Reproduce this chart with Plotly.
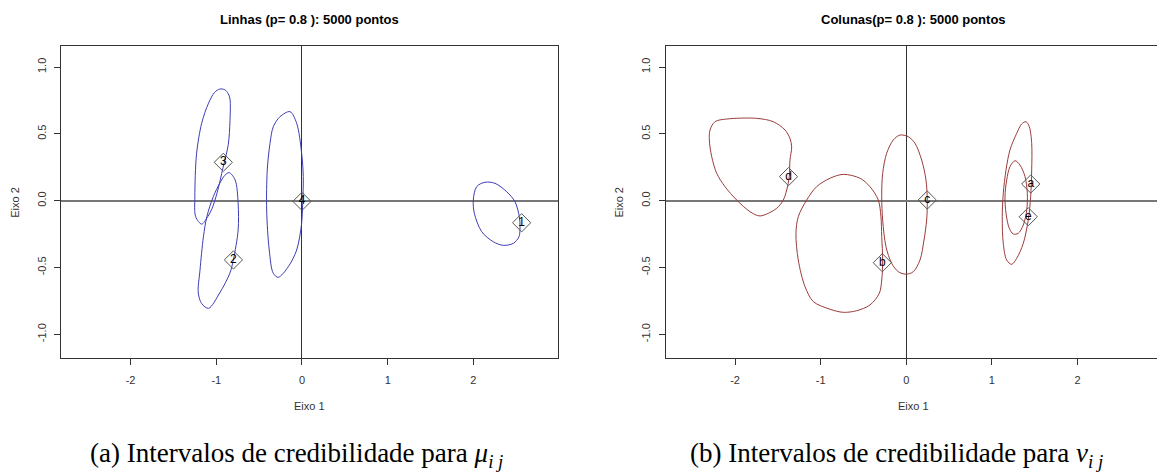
import plotly.graph_objects as go

# ---------------- data ----------------
# Left panel: credible regions for rows (mu_ij)
row_labels = ["1", "2", "3", "4"]
row_pt_x = [2.563, -0.80, -0.918, 0.0]
row_pt_y = [-0.165, -0.443, 0.287, -0.005]

r1_x = [2.135, 2.038, 1.999, 2.011, 2.097, 2.232, 2.349, 2.466, 2.532, 2.544, 2.536, 2.485, 2.389, 2.252]
r1_y = [0.138, 0.105, 0.005, -0.094, -0.232, -0.307, -0.334, -0.319, -0.269, -0.194, -0.12, -0.007, 0.067, 0.13]

r2_x = [-0.85, -0.78, -0.745, -0.745, -0.80, -0.84, -0.96, -1.09, -1.17, -1.21, -1.19, -1.15, -1.11, -1.035, -0.96, -0.90]
r2_y = [0.21, 0.155, -0.02, -0.22, -0.44, -0.54, -0.69, -0.805, -0.77, -0.69, -0.52, -0.27, -0.12, 0.03, 0.13, 0.19]

r3_x = [-0.96, -1.02, -1.09, -1.17, -1.23, -1.25, -1.24, -1.17, -1.10, -1.05, -0.99, -0.92, -0.86, -0.84, -0.84, -0.86, -0.90]
r3_y = [0.835, 0.81, 0.73, 0.58, 0.35, 0.03, -0.12, -0.175, -0.12, -0.06, 0.06, 0.25, 0.42, 0.60, 0.76, 0.80, 0.83]

r4_x = [-0.14, -0.062, -0.004, 0.015, 0.008, -0.004, -0.062, -0.16, -0.277, -0.335, -0.382, -0.412, -0.405, -0.373, -0.335, -0.257]
r4_y = [0.666, 0.579, 0.355, 0.18, -0.02, -0.17, -0.369, -0.494, -0.573, -0.543, -0.369, -0.07, 0.23, 0.429, 0.553, 0.628]

# Right panel: credible regions for columns (nu_ij)
col_labels = ["d", "b", "c", "a", "e"]
col_pt_x = [-1.376, -0.280, 0.245, 1.454, 1.425]
col_pt_y = [0.180, -0.464, 0.005, 0.125, -0.120]

cd_x = [-2.235, -2.098, -1.748, -1.554, -1.417, -1.359, -1.339, -1.359, -1.367, -1.397, -1.437, -1.514, -1.709,
        -1.826, -1.981, -2.118, -2.215, -2.273, -2.301, -2.293]
cd_y = [0.591, 0.611, 0.616, 0.591, 0.529, 0.466, 0.403, 0.304, 0.180, 0.080, 0.005, -0.057, -0.114,
        -0.082, 0.005, 0.105, 0.205, 0.329, 0.454, 0.529]

cb_x = [-0.736, -0.541, -0.424, -0.327, -0.296, -0.287, -0.276, -0.287, -0.315, -0.424, -0.579, -0.736, -0.891,
        -1.086, -1.183, -1.262, -1.289, -1.262, -1.164, -1.047, -0.891]
cb_y = [0.197, 0.168, 0.105, 0.005, -0.120, -0.269, -0.444, -0.593, -0.693, -0.780, -0.823, -0.835, -0.812,
        -0.755, -0.643, -0.444, -0.244, -0.120, 0.005, 0.105, 0.168]

cc_x = [-0.074, 0.023, 0.102, 0.180, 0.230, 0.245, 0.238, 0.207, 0.160, 0.082, -0.004, -0.093, -0.171, -0.237,
        -0.276, -0.287, -0.276, -0.229, -0.152]
cc_y = [0.491, 0.479, 0.429, 0.304, 0.155, 0.005, -0.144, -0.294, -0.444, -0.531, -0.550, -0.531, -0.468, -0.344,
        -0.144, 0.030, 0.205, 0.355, 0.454]

ca_x = [1.398, 1.437, 1.465, 1.465, 1.453, 1.425, 1.367, 1.290, 1.231, 1.173, 1.133, 1.121, 1.133, 1.165, 1.211,
        1.290, 1.348]
ca_y = [0.591, 0.553, 0.429, 0.230, 0.030, -0.144, -0.319, -0.431, -0.476, -0.444, -0.319, -0.120, 0.055, 0.230,
        0.379, 0.504, 0.574]

ce_x = [1.270, 1.328, 1.387, 1.414, 1.407, 1.367, 1.308, 1.250, 1.203, 1.165, 1.153, 1.173, 1.211]
ce_y = [0.299, 0.267, 0.180, 0.055, -0.070, -0.182, -0.244, -0.249, -0.206, -0.094, 0.030, 0.155, 0.254]

x_ticks = [-2, -1, 0, 1, 2]
x_ticktext = ["-2", "-1", "0", "1", "2"]
y_ticks = [-1.0, -0.5, 0.0, 0.5, 1.0]
y_ticktext = ["-1.0", "-0.5", "0.0", "0.5", "1.0"]

title_left = "Linhas (p= 0.8 ): 5000 pontos"
title_right = "Colunas(p= 0.8 ): 5000 pontos"
axis_x_title = "Eixo 1"
axis_y_title = "Eixo 2"
caption_left = "(a) Intervalos de credibilidade para <i>μ<sub>i j</sub></i>"
caption_right = "(b) Intervalos de credibilidade para <i>ν<sub>i j</sub></i>"

# ---------------- figure ----------------
W, H = 1157, 473
BLUE = "#3d3db5"
BROWN = "#9a3c3c"

fig = go.Figure()


def closed(xs, ys):
    return list(xs) + [xs[0]], list(ys) + [ys[0]]


for xs, ys in [(r1_x, r1_y), (r2_x, r2_y), (r3_x, r3_y), (r4_x, r4_y)]:
    cx, cy = closed(xs, ys)
    fig.add_trace(go.Scatter(x=cx, y=cy, mode="lines", xaxis="x", yaxis="y",
                             line=dict(color=BLUE, width=1, shape="spline", smoothing=0.9),
                             hoverinfo="skip", showlegend=False))

for xs, ys in [(cd_x, cd_y), (cb_x, cb_y), (cc_x, cc_y), (ca_x, ca_y), (ce_x, ce_y)]:
    cx, cy = closed(xs, ys)
    fig.add_trace(go.Scatter(x=cx, y=cy, mode="lines", xaxis="x2", yaxis="y2",
                             line=dict(color=BROWN, width=1, shape="spline", smoothing=0.9),
                             hoverinfo="skip", showlegend=False))

marker = dict(symbol="diamond-open", size=14, color="#555555", line=dict(width=1, color="#555555"))
fig.add_trace(go.Scatter(x=row_pt_x, y=row_pt_y, text=row_labels, mode="markers+text",
                         textposition="middle center", xaxis="x", yaxis="y",
                         marker=marker, textfont=dict(family="Liberation Sans, Arial", size=12, color="#000"),
                         showlegend=False))
fig.add_trace(go.Scatter(x=col_pt_x, y=col_pt_y, text=col_labels, mode="markers+text",
                         textposition="middle center", xaxis="x2", yaxis="y2",
                         marker=marker, textfont=dict(family="Liberation Sans, Arial", size=12, color="#000"),
                         showlegend=False))

tickfont = dict(family="Liberation Sans, Arial", size=11, color="#333333")
common_x = dict(tickmode="array", tickvals=x_ticks, ticktext=x_ticktext, ticks="outside", ticklen=6,
                tickcolor="#333333", tickwidth=1, showgrid=False, showline=True, linecolor="#333333",
                linewidth=1, mirror=True, zeroline=True, zerolinecolor="#333333", zerolinewidth=1,
                tickfont=tickfont, ticklabelstandoff=5, fixedrange=True)
common_y = dict(tickmode="array", tickvals=y_ticks, ticktext=y_ticktext, ticks="outside", ticklen=6,
                tickcolor="#333333", tickwidth=1, showgrid=False, showline=True, linecolor="#333333",
                linewidth=1, zeroline=True, zerolinecolor="#777777", zerolinewidth=1.5,
                tickfont=tickfont, tickangle=-90, ticklabelstandoff=4, fixedrange=True)

y_dom = [1 - 358.3 / H, 1 - 46.3 / H]
fig.update_layout(
    width=W, height=H, autosize=False,
    margin=dict(l=0, r=0, t=0, b=0),
    paper_bgcolor="white", plot_bgcolor="white",
    xaxis=dict(common_x, domain=[61.4 / W, 557.9 / W], range=[-2.807, 2.986], anchor="y"),
    yaxis=dict(common_y, domain=y_dom, range=[-1.179, 1.155], anchor="x", mirror=True),
    xaxis2=dict(common_x, domain=[665.5 / W, 1.0], range=[-2.813, 2.929], anchor="y2"),
    yaxis2=dict(common_y, domain=y_dom, range=[-1.179, 1.155], anchor="x2", mirror=False),
)

ann_font = dict(family="Liberation Sans, Arial", size=11, color="#333333")
title_font = dict(family="Liberation Sans, Arial", size=13, color="#000000")
cap_font = dict(family="Liberation Serif, Times New Roman", size=27, color="#000000")
cl, cr = 309.6 / W, 913.7 / W
annotations = [
    dict(text="<b>" + title_left + "</b>", x=cl, y=1 - 19.3 / H, font=title_font),
    dict(text="<b>" + title_right + "</b>", x=cr, y=1 - 19.3 / H, font=title_font),
    dict(text=axis_x_title, x=cl, y=1 - 406 / H, font=ann_font),
    dict(text=axis_x_title, x=cr, y=1 - 406 / H, font=ann_font),
    dict(text=axis_y_title, x=14.8 / W, y=1 - 202 / H, font=ann_font, textangle=-90),
    dict(text=axis_y_title, x=618.6 / W, y=1 - 202 / H, font=ann_font, textangle=-90),
    dict(text=caption_left, x=296 / W, y=1 - 455 / H, font=cap_font),
    dict(text=caption_right, x=896 / W, y=1 - 455 / H, font=cap_font),
]
for a in annotations:
    a.update(xref="paper", yref="paper", showarrow=False, xanchor="center", yanchor="middle")
fig.update_layout(annotations=annotations)

fig.write_html("out.html")
